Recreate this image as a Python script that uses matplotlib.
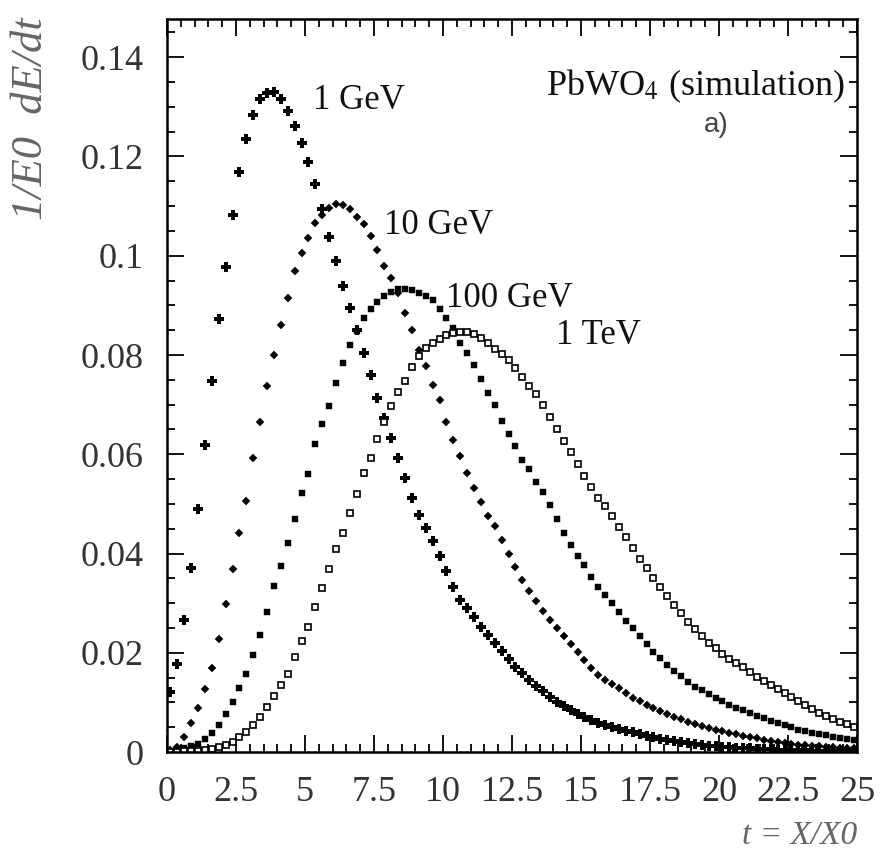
import numpy as np
import matplotlib
matplotlib.use('Agg')
from matplotlib import pyplot as plt

# bin centres, 0.25 X0 bins
t = np.arange(0.125, 25, 0.25)

gev1 = [0.0120, 0.0177, 0.0266, 0.0370, 0.0490, 0.0618, 0.0747, 0.0872, 0.0977, 0.1082,
        0.1168, 0.1235, 0.1283, 0.1315, 0.1327, 0.1329, 0.1315, 0.1292, 0.1262, 0.1228,
        0.1188, 0.1145, 0.1095, 0.1037, 0.0990, 0.0940, 0.0895, 0.0850, 0.0805, 0.0760,
        0.0714, 0.0673, 0.0633, 0.0592, 0.0553, 0.0512, 0.0478, 0.0452, 0.0425, 0.0395,
        0.0364, 0.0332, 0.0307, 0.0291, 0.0273, 0.0252, 0.0236, 0.0220, 0.0203, 0.0188,
        0.0172, 0.0160, 0.0146, 0.0134, 0.0122, 0.0111, 0.0101, 0.0092, 0.0084, 0.0077,
        0.0070, 0.0064, 0.0059, 0.0054, 0.0050, 0.0046, 0.0043, 0.0040, 0.0036, 0.0033,
        0.0030, 0.0027, 0.0024, 0.0022, 0.0020, 0.0018, 0.0016, 0.0014, 0.0013, 0.0012,
        0.0011, 0.0010, 0.0009, 0.0008, 0.0008, 0.0007, 0.0006, 0.0006, 0.0005, 0.0005,
        0.0004, 0.0004, 0.0004, 0.0003, 0.0003, 0.0003, 0.0002, 0.0002, 0.0002, 0.0002]

gev10 = [0.0005, 0.0011, 0.0031, 0.0058, 0.0088, 0.0126, 0.0170, 0.0228, 0.0298, 0.0368,
         0.0442, 0.0505, 0.0592, 0.0664, 0.0738, 0.0801, 0.0860, 0.0915, 0.0970, 0.1005,
         0.1035, 0.1066, 0.1083, 0.1097, 0.1105, 0.1103, 0.1095, 0.1079, 0.1063, 0.1040,
         0.1012, 0.0980, 0.0955, 0.0925, 0.0885, 0.0850, 0.0810, 0.0778, 0.0740, 0.0709,
         0.0666, 0.0628, 0.0597, 0.0563, 0.0532, 0.0504, 0.0476, 0.0455, 0.0427, 0.0399,
         0.0372, 0.0347, 0.0325, 0.0305, 0.0284, 0.0267, 0.0250, 0.0234, 0.0217, 0.0201,
         0.0185, 0.0170, 0.0156, 0.0146, 0.0137, 0.0128, 0.0119, 0.0109, 0.0102, 0.0095,
         0.0088, 0.0083, 0.0077, 0.0071, 0.0066, 0.0061, 0.0057, 0.0053, 0.0049, 0.0045,
         0.0042, 0.0039, 0.0036, 0.0033, 0.0030, 0.0028, 0.0025, 0.0023, 0.0021, 0.0019,
         0.0017, 0.0015, 0.0014, 0.0013, 0.0012, 0.0011, 0.0010, 0.0009, 0.0008, 0.0008]

gev100 = [0.0003, 0.0005, 0.0008, 0.0012, 0.0017, 0.0026, 0.0039, 0.0054, 0.0076, 0.0100,
          0.0129, 0.0158, 0.0195, 0.0235, 0.0282, 0.0335, 0.0374, 0.0421, 0.0470, 0.0522,
          0.0560, 0.0620, 0.0660, 0.0698, 0.0743, 0.0783, 0.0820, 0.0848, 0.0874, 0.0893,
          0.0906, 0.0918, 0.0927, 0.0933, 0.0933, 0.0930, 0.0925, 0.0919, 0.0910, 0.0893,
          0.0874, 0.0855, 0.0825, 0.0804, 0.0780, 0.0752, 0.0724, 0.0700, 0.0667, 0.0640,
          0.0617, 0.0589, 0.0570, 0.0544, 0.0524, 0.0498, 0.0470, 0.0442, 0.0417, 0.0395,
          0.0376, 0.0353, 0.0332, 0.0316, 0.0300, 0.0282, 0.0265, 0.0250, 0.0233, 0.0218,
          0.0202, 0.0189, 0.0176, 0.0164, 0.0153, 0.0142, 0.0132, 0.0124, 0.0116, 0.0108,
          0.0102, 0.0095, 0.0089, 0.0084, 0.0078, 0.0073, 0.0068, 0.0063, 0.0058, 0.0054,
          0.0050, 0.0045, 0.0042, 0.0039, 0.0036, 0.0034, 0.0031, 0.0029, 0.0026, 0.0024]

tev1 = [0.0001, 0.0001, 0.0002, 0.0002, 0.0003, 0.0005, 0.0007, 0.0010, 0.0015, 0.0021,
        0.0031, 0.0041, 0.0054, 0.0070, 0.0090, 0.0112, 0.0135, 0.0158, 0.0191, 0.0224,
        0.0252, 0.0293, 0.0330, 0.0368, 0.0410, 0.0441, 0.0482, 0.0520, 0.0562, 0.0593,
        0.0631, 0.0665, 0.0697, 0.0726, 0.0747, 0.0776, 0.0797, 0.0814, 0.0824, 0.0832,
        0.0841, 0.0845, 0.0847, 0.0847, 0.0843, 0.0835, 0.0825, 0.0813, 0.0803, 0.0790,
        0.0773, 0.0756, 0.0738, 0.0721, 0.0700, 0.0676, 0.0650, 0.0627, 0.0605, 0.0581,
        0.0556, 0.0535, 0.0512, 0.0495, 0.0475, 0.0454, 0.0433, 0.0412, 0.0389, 0.0370,
        0.0350, 0.0333, 0.0315, 0.0297, 0.0280, 0.0262, 0.0247, 0.0233, 0.0220, 0.0209,
        0.0198, 0.0188, 0.0180, 0.0172, 0.0162, 0.0152, 0.0144, 0.0135, 0.0127, 0.0118,
        0.0110, 0.0102, 0.0094, 0.0086, 0.0079, 0.0072, 0.0066, 0.0061, 0.0056, 0.0050]

energy_labels = ['1 GeV', '10 GeV', '100 GeV', '1 TeV']
label_pos = [(5.3, 0.1313), (7.85, 0.1061), (10.1, 0.0914), (14.1, 0.0840)]

x_ticks = [0, 2.5, 5, 7.5, 10, 12.5, 15, 17.5, 20, 22.5, 25]
x_ticklabels = ['0', '2.5', '5', '7.5', '10', '12.5', '15', '17.5', '20', '22.5', '25']
y_ticks = [0, 0.02, 0.04, 0.06, 0.08, 0.1, 0.12, 0.14]
y_ticklabels = ['0', '0.02', '0.04', '0.06', '0.08', '0.1', '0.12', '0.14']

plt.rcParams['mathtext.fontset'] = 'stix'
serif = 'Liberation Serif'

fig = plt.figure(figsize=(8.81, 8.57), dpi=100)
ax = fig.add_axes([0.1896, 0.1225, 0.7832, 0.8553])

ax.plot(t, gev1, ls='none', marker='P', ms=6.5, color='k', mew=0)
ax.plot(t, gev10, ls='none', marker='D', ms=4.5, color='k', mew=0.3)
ax.plot(t, gev100, ls='none', marker='s', ms=4.8, color='k', mew=0.3)
ax.plot(t, tev1, ls='none', marker='s', ms=5.0, mfc='white', mec='k', mew=1.2)

ax.set_xlim(0, 25)
ax.set_ylim(0, 0.1477)
ax.set_xticks(x_ticks)
ax.set_xticklabels(x_ticklabels)
ax.set_xticks(np.arange(0, 25.01, 0.5), minor=True)
ax.set_yticks(y_ticks)
ax.set_yticklabels(y_ticklabels)
ax.set_yticks(np.arange(0, 0.1476, 0.005), minor=True)

ax.tick_params(which='both', direction='in', top=True, right=True, width=1.3, color='k')
ax.tick_params(which='major', length=12)
ax.tick_params(which='minor', length=6)
ax.tick_params(axis='x', pad=17)
ax.tick_params(axis='y', pad=17)
for lab in ax.get_xticklabels() + ax.get_yticklabels():
    lab.set_fontfamily(serif)
    lab.set_fontsize(26)
    lab.set_color('#333333')
for sp in ax.spines.values():
    sp.set_linewidth(1.8)

for name, (lx, ly) in zip(energy_labels, label_pos):
    ax.text(lx, ly, name, family=serif, fontsize=25, va='center', ha='left', color='#111111')

fig.text(0.959, 0.889, 'PbWO$_4$ (simulation)', family=serif, fontsize=26,
         ha='right', va='baseline', color='#111111')
fig.text(0.8127, 0.854, 'a)', family='Liberation Sans', fontsize=20,
         ha='center', va='center', color='#444444')
fig.text(0.035, 0.98, '1/E0  dE/dt', rotation=90, family=serif, style='italic',
         fontsize=32, ha='center', va='top', color='#666666')
fig.text(0.973, 0.025, 't = X/X0', family=serif, style='italic',
         fontsize=24, ha='right', va='center', color='#666666')

fig.savefig('out.png', dpi=100)
